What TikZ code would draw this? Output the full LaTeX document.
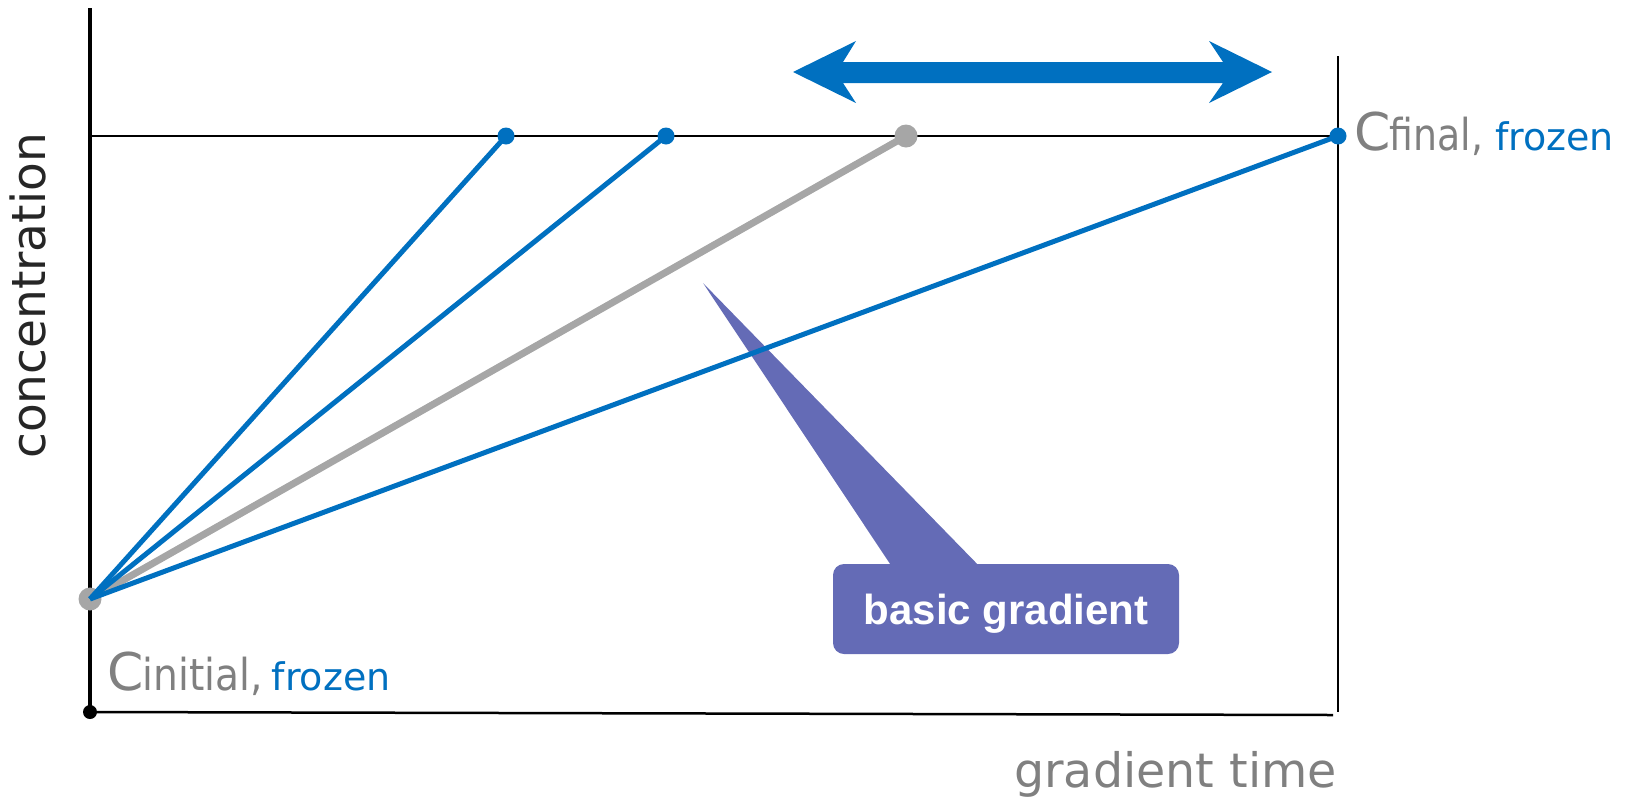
\documentclass[tikz,border=0pt]{standalone}
\usepackage{fontspec}
\setmainfont{DejaVu Sans}
\newfontfamily\libsans{Liberation Sans}
\usepackage{graphicx}
\definecolor{cblue}{HTML}{0070C0}
\definecolor{lgray}{HTML}{A6A6A6}
\definecolor{tgray}{HTML}{808080}
\definecolor{callc}{HTML}{646BB6}
\definecolor{axisc}{HTML}{262626}
\tikzset{
  bdot/.style={circle, fill=cblue, inner sep=0pt, minimum size=17pt},
  gdot/.style={circle, fill=lgray, inner sep=0pt, minimum size=23pt},
  kdot/.style={circle, fill=black, inner sep=0pt, minimum size=14pt},
  bline/.style={draw=cblue, line width=5pt},
  gline/.style={draw=lgray, line width=7pt},
  axisline/.style={draw=black, line width=#1},
  calloutbox/.style={fill=callc, rounded corners=11pt, inner sep=0pt, minimum width=346pt, minimum height=90pt},
}
\begin{document}
\begin{tikzpicture}[x=1pt,y=-1pt]
\useasboundingbox (0,0) rectangle (1629,801);
% frame coordinates
\coordinate (ytop) at (90,8);
\coordinate (corner) at (90,712);
\coordinate (xend) at (1333,715);
\coordinate (rtop) at (1338,56);
\coordinate (rbot) at (1338,712);
\coordinate (tl) at (90,136);
\coordinate (tr) at (1338,136);
% axes and frame lines
\draw[axisline=4pt] (ytop) -- (corner);
\draw[axisline=2.5pt] (corner) -- (xend);
\draw[axisline=2pt] (rtop) -- (rbot);
\draw[axisline=2pt] (tl) -- (tr);
\node[kdot] (origin) at (corner) {};
% callout
\node[calloutbox] (cbox) at (1006,609) {};
\coordinate (ctip) at (703,283);
\fill[callc] ([xshift=-116pt]cbox.north) -- (ctip) -- ([xshift=-29pt]cbox.north) -- cycle;
\node[anchor=base, inner sep=0pt, text=white, font={\libsans\bfseries\fontsize{42pt}{48pt}\selectfont}] (ctext) at (1006,624) {basic gradient};
% double arrow
\fill[cblue] (793,72) coordinate (al) -- (856,41) -- (843,62) -- (1223,62) -- (1209,41) -- (1272,72) coordinate (ar) -- (1209,103) -- (1223,83) -- (843,83) -- (856,103) -- cycle;
% gradient lines
\node[gdot] (start) at (90,599) {};
\node[gdot] (pg) at (906,136) {};
\draw[gline] (start.center) -- (pg.center);
\node[bdot] (p1) at (506,136) {};
\node[bdot] (p2) at (666,136) {};
\node[bdot] (p4) at (1338,136) {};
\draw[bline] (start.center) -- (p1.center);
\draw[bline] (start.center) -- (p2.center);
\draw[bline] (start.center) -- (p4.center);
% labels
\node[anchor=base, rotate=90, inner sep=0pt, text=axisc, font={\fontsize{47pt}{56pt}\selectfont}] (ylab) at (45,296) {concentration};
\node[anchor=base west, inner sep=0pt, text=tgray, font={\fontsize{47.5pt}{56pt}\selectfont}] (xlab) at (1014,787) {gradient time};
\node[anchor=base west, inner sep=0pt] (cinit) at (107,690) {{\color{tgray}\fontsize{52pt}{60pt}\selectfont C}\hspace{-1pt}{\color{tgray}\fontsize{44pt}{50pt}\selectfont\scalebox{0.89}[1]{initial,}}\hspace{9pt}{\color{cblue}\fontsize{38pt}{44pt}\selectfont frozen}};
\node[anchor=base west, inner sep=0pt] (cfin) at (1354,150) {{\color{tgray}\fontsize{52pt}{60pt}\selectfont C}\hspace{-1pt}{\color{tgray}\fontsize{44pt}{50pt}\selectfont\scalebox{0.86}[1]{final,}}\hspace{12pt}{\color{cblue}\fontsize{38pt}{44pt}\selectfont frozen}};
\end{tikzpicture}
\end{document}
